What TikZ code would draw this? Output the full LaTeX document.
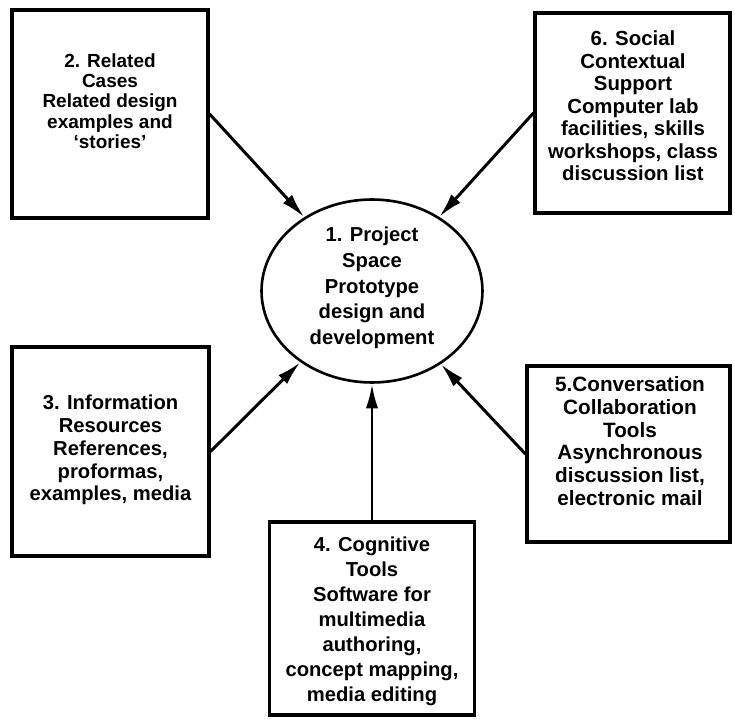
\documentclass[tikz,border=0pt]{standalone}
\usepackage{fontspec}
\setmainfont{Liberation Sans}
\usetikzlibrary{shapes.geometric,arrows.meta}

\newcommand{\fs}[2]{\fontsize{#1}{#2}\selectfont\bfseries}

\begin{document}
\begin{tikzpicture}[x=0.02cm, y=-0.02cm,
        box/.style={draw, line width=1.8pt, inner sep=0pt},
        txt/.style={align=center, inner sep=0pt},
        link/.style={-{Latex[length=14pt,width=7pt]}, line width=1.7pt}]
        \useasboundingbox (0,0) rectangle (735,722);

        % centre
        \node[box, ellipse, line width=1.5pt, minimum width=4.42cm, minimum height=3.66cm]
            (proj) at (372,291) {};
        \node[txt, font=\fs{11.5}{14.6}] (projt) at (372,288)
            {1. Project\\Space\\Prototype\\design and\\development};

        % surrounding components
        \node[box, minimum width=3.92cm, minimum height=4.16cm] (rel) at (110,114) {};
        \node[txt, font=\fs{10.8}{11.6}] (relt) at (110,101)
            {2. Related\\Cases\\Related design\\examples and\\`stories'};

        \node[box, minimum width=3.9cm, minimum height=4.0cm] (soc) at (632.5,113) {};
        \node[txt, font=\fs{11.6}{12.8}] (soct) at (633,106)
            {6. Social\\Contextual\\Support\\Computer lab\\facilities, skills\\workshops, class\\discussion list};

        \node[box, minimum width=3.94cm, minimum height=4.18cm] (info) at (110.5,451.5) {};
        \node[txt, font=\fs{11.5}{13}] (infot) at (110.5,450)
            {3. Information\\Resources\\References,\\proformas,\\examples, media};

        \node[box, minimum width=4.06cm, minimum height=3.52cm] (conv) at (628.5,454) {};
        \node[txt, font=\fs{11.8}{12.9}] (convt) at (630,441)
            {5.Conversation\\Collaboration\\Tools\\Asynchronous\\discussion list,\\electronic mail};

        \node[box, minimum width=4.1cm, minimum height=3.86cm] (cog) at (372,618.5) {};
        \node[txt, font=\fs{11.5}{14.2}] (cogt) at (372,621)
            {4. Cognitive\\Tools\\Software for\\multimedia\\authoring,\\concept mapping,\\media editing};

        % links into the project space
        \draw[link] (rel.east) -- (proj);
        \draw[link] (soc.west) -- (proj);
        \draw[link] (info.east) -- (proj);
        \draw[link] (conv.west) -- (proj);
        \draw[link] (cog.north) -- (proj);
\end{tikzpicture}
\end{document}
